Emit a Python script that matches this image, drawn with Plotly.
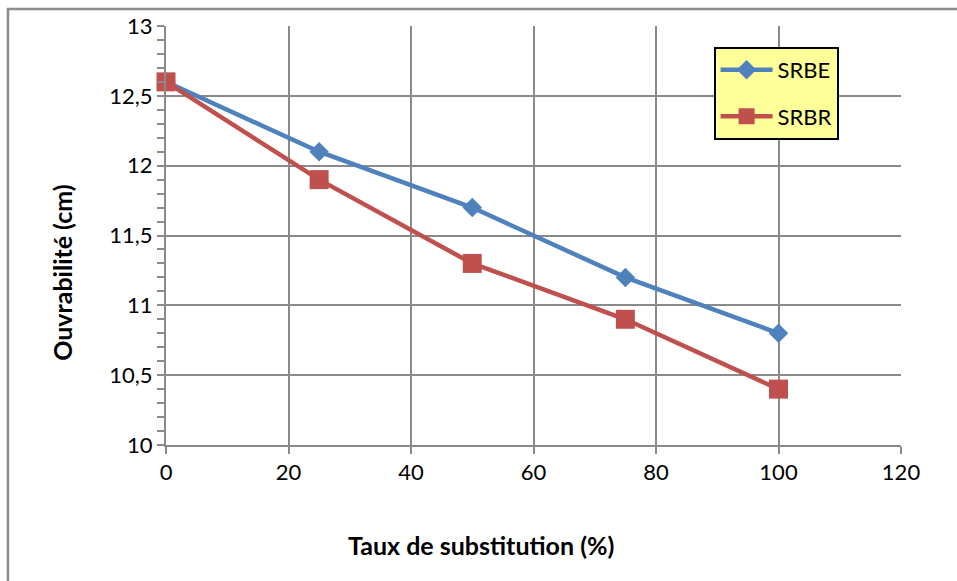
import plotly.graph_objects as go

x_vals = [0, 25, 50, 75, 100]
srbe = [12.6, 12.1, 11.7, 11.2, 10.8]
srbr = [12.6, 11.9, 11.3, 10.9, 10.4]

x_ticks = [0, 20, 40, 60, 80, 100, 120]
x_ticktext = ["0", "20", "40", "60", "80", "100", "120"]
y_ticks = [10, 10.5, 11, 11.5, 12, 12.5, 13]
y_ticktext = ["10", "10,5", "11", "11,5", "12", "12,5", "13"]

FONT = "Lato"
GRID = "#8A8A8A"

fig = go.Figure()
fig.add_trace(go.Scatter(
    x=x_vals, y=srbe, name="SRBE", mode="lines+markers", legendgroup="a",
    line=dict(color="#4F81BD", width=4.5), cliponaxis=False,
    marker=dict(symbol="diamond", size=15, color="#4F81BD"),
))
fig.add_trace(go.Scatter(
    x=x_vals, y=srbr, name="SRBR", mode="lines+markers", legendgroup="b",
    line=dict(color="#C0504D", width=4.5), cliponaxis=False,
    marker=dict(symbol="square", size=19, color="#C0504D"),
))

fig.update_layout(
    width=957, height=581,
    margin=dict(l=166, r=56, t=24, b=136),
    paper_bgcolor="white", plot_bgcolor="white",
    font=dict(family=FONT, size=22, color="black"),
    showlegend=True,
    legend=dict(
        x=0.745, y=0.95, xanchor="left", yanchor="top",
        bgcolor="#FFFF99", bordercolor="black", borderwidth=2,
        font=dict(family=FONT, size=22, color="black"),
        traceorder="grouped", tracegroupgap=15, itemwidth=52,
    ),
    xaxis=dict(
        range=[0, 120], tickvals=x_ticks, ticktext=x_ticktext,
        showgrid=True, gridcolor=GRID, gridwidth=1.5,
        showline=True, linecolor=GRID, linewidth=2,
        ticks="outside", ticklen=7, tickcolor=GRID, tickwidth=2,
        zeroline=False, tickfont=dict(family=FONT, size=22),
    ),
    yaxis=dict(
        range=[10, 13], tickvals=y_ticks, ticktext=y_ticktext,
        showgrid=True, gridcolor=GRID, gridwidth=1.5,
        showline=True, linecolor=GRID, linewidth=2,
        ticks="outside", ticklen=7, tickcolor=GRID, tickwidth=2,
        minor=dict(dtick=0.1, ticks="outside", ticklen=7, tickcolor=GRID, tickwidth=2, showgrid=False),
        zeroline=False, tickfont=dict(family=FONT, size=22),
    ),
    annotations=[
        dict(text="<b>Taux de substitution (%)</b>", xref="paper", yref="paper",
             x=0.4286, y=-0.2375, xanchor="center", yanchor="middle", showarrow=False,
             font=dict(family=FONT, size=25, color="black")),
        dict(text="<b>Ouvrabilité (cm)</b>", xref="paper", yref="paper",
             x=-0.1415, y=0.411, xanchor="center", yanchor="middle", showarrow=False,
             textangle=-90, font=dict(family=FONT, size=25, color="black")),
    ],
    shapes=[
        dict(type="rect", xref="paper", yref="paper",
             x0=-0.215, x1=1.5, y0=-1.0, y1=1.0404,
             line=dict(color="#8C8C8C", width=2.5), layer="below"),
    ],
)

fig.write_html("out.html")
